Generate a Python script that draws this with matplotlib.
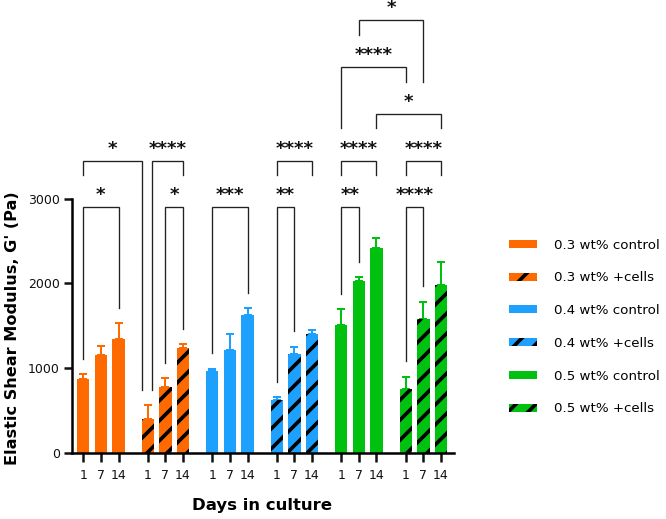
import matplotlib
matplotlib.use('Agg')
import matplotlib.pyplot as plt

plt.rcParams['font.family'] = 'DejaVu Sans'
plt.rcParams['hatch.linewidth'] = 2.2

# Data: mean G' (Pa) and SD for day 1, 7, 14
days = ['1', '7', '14']
labels = ['0.3 wt% control', '0.3 wt% +cells', '0.4 wt% control',
          '0.4 wt% +cells', '0.5 wt% control', '0.5 wt% +cells']
means = [[870, 1150, 1350],
         [400, 780, 1235],
         [970, 1215, 1625],
         [625, 1165, 1400],
         [1510, 2025, 2415],
         [760, 1580, 1980]]
sds = [[60, 115, 180],
       [165, 105, 50],
       [25, 190, 85],
       [35, 90, 50],
       [190, 50, 125],
       [140, 205, 275]]
colors = ['#FF6A00', '#FF6A00', '#1EA0FF', '#1EA0FF', '#00C010', '#00C010']
hatches = ['', '//', '', '//', '', '//']

# Significance brackets: (group a, day a, group b, day b, level, left leg end, right leg end, stars)
# leg end None -> leg goes down to just above the error bar
brackets = [
    (0, 0, 0, 2, 2900, None, None, '*'),
    (1, 1, 1, 2, 2900, None, None, '*'),
    (2, 0, 2, 2, 2900, None, None, '***'),
    (3, 0, 3, 1, 2900, None, None, '**'),
    (4, 0, 4, 1, 2900, None, None, '**'),
    (5, 0, 5, 1, 2900, None, None, '****'),
    (0, 0, 1, 0, 3447, 3278, None, '*'),
    (1, 0, 1, 2, 3447, None, 3278, '****'),
    (3, 0, 3, 2, 3447, 3278, 3278, '****'),
    (4, 0, 4, 2, 3447, 3278, 3278, '****'),
    (5, 0, 5, 2, 3447, 3278, 3278, '****'),
    (4, 2, 5, 2, 3998, 3829, 3829, '*'),
    (4, 0, 5, 0, 4555, 3829, 4379, '****'),
    (4, 1, 5, 1, 5106, 4929, 4379, '*'),
]

group_step = 3.664
width = 0.7

fig = plt.figure(figsize=(666 / 120, 519 / 120), dpi=120)
ax = fig.add_axes([71.7 / 666, 66 / 519, (454 - 71.7) / 666, 453 / 519])

xpos = []
for g in range(6):
    x = [g * group_step + i for i in range(3)]
    xpos.append(x)
    ax.errorbar(x, means[g], yerr=[[0, 0, 0], sds[g]], fmt='none',
                ecolor=colors[g], elinewidth=1.2, capsize=2.2, capthick=1.2, zorder=1)
    ax.bar(x, means[g], width=width, color=colors[g], edgecolor='black',
           linewidth=0, hatch=hatches[g], label=labels[g], zorder=2)

# brackets
for ga, da, gb, db, top, lend, rend, stars in brackets:
    xa = xpos[ga][da]
    xb = xpos[gb][db]
    # shift legs that share a bar with another bracket
    if (ga, da, gb, db) == (0, 0, 1, 0):
        xb -= 0.32
    if (ga, da, gb, db) == (1, 0, 1, 2):
        xa += 0.25
    if lend is None:
        lend = means[ga][da] + sds[ga][da] + 180
    if rend is None:
        rend = means[gb][db] + sds[gb][db] + 180
    ax.plot([xa, xa, xb, xb], [lend, top, top, rend], color='#222222',
            lw=0.8, solid_joinstyle='miter', zorder=3)
    ax.text((xa + xb) / 2, top + 80, stars, ha='center', va='baseline',
            fontsize=11, fontweight='bold', color='#111111')

ax.set_xlim(-0.66, 21.06)
ax.set_ylim(0, 5342)
ax.spines['top'].set_visible(False)
ax.spines['right'].set_visible(False)
ax.spines['left'].set_bounds(0, 3000)
ax.spines['left'].set_linewidth(1.5)
ax.spines['bottom'].set_linewidth(1.5)

ax.set_yticks([0, 1000, 2000, 3000])
ax.set_xticks([x for g in xpos for x in g])
ax.set_xticklabels(days * 6)
ax.tick_params(axis='y', length=5, width=1.5, pad=2, labelsize=7.5, colors='#111111')
ax.tick_params(axis='x', length=5.5, width=1.5, pad=4, labelsize=7.5, colors='#111111')

ax.set_ylabel("Elastic Shear Modulus, G' (Pa)", fontsize=9.7, fontweight='bold')
ax.yaxis.set_label_coords(-0.136, 1474 / 5342)
ax.set_xlabel('Days in culture', fontsize=9.9, fontweight='bold')
ax.xaxis.set_label_coords(0.498, -0.10)

ax.legend(loc='upper left', bbox_to_anchor=(1.13, 0.485), frameon=False,
          fontsize=8, handlelength=2.1, handleheight=0.55, labelspacing=1.48,
          handletextpad=1.3, borderaxespad=0)

fig.savefig('out.png', dpi=120)
